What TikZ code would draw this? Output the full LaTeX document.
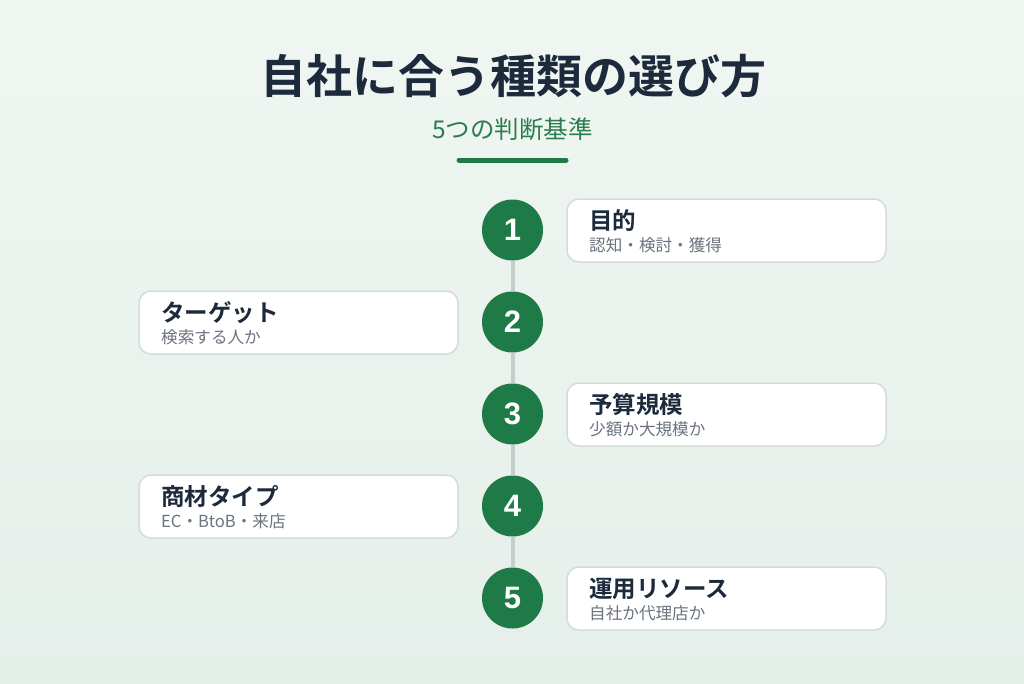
\documentclass[tikz,border=0pt]{standalone}
\usepackage{fontspec}
\newfontfamily\jp{Noto Sans CJK JP}
\newfontfamily\jpb{Noto Sans CJK JP Bold}
\newfontfamily\numfont{Liberation Sans}
\definecolor{bgtop}{HTML}{F0F6F2}
\definecolor{bgbot}{HTML}{E5EFEA}
\definecolor{navy}{HTML}{1C2A3C}
\definecolor{subgreen}{HTML}{2A7D4F}
\definecolor{dgreen}{HTML}{1E7A47}
\definecolor{cardborder}{HTML}{D3DDD8}
\definecolor{linegray}{HTML}{C5CECA}
\definecolor{subgray}{HTML}{6B7280}
\tikzset{
  numcircle/.style={circle, fill=dgreen, minimum size=61pt, inner sep=0pt, text=white, font=\numfont\bfseries\fontsize{31}{31}\selectfont},
  card/.style={rectangle, rounded corners=12pt, draw=cardborder, line width=1.5pt, fill=white, minimum width=319pt, minimum height=63pt, inner sep=0pt},
  cardtitle/.style={anchor=base west, inner sep=0pt, text=navy, font=\jpb\fontsize{23.5}{23.5}\selectfont},
  cardsub/.style={anchor=base west, inner sep=0pt, text=subgray, font=\jp\fontsize{16.6}{16.6}\selectfont},
  spine/.style={draw=linegray, line width=4pt}
}
\begin{document}
\begin{tikzpicture}[x=1pt,y=-1pt]
\shade[top color=bgtop, bottom color=bgbot] (0,0) rectangle (1024,683);
\useasboundingbox (0,0) rectangle (1024,683);
% title
\node[anchor=base, inner sep=0pt, text=navy, font=\jpb\fontsize{46}{46}\selectfont] (title) at (513,93) {自社に合う種類の選び方};
\node[anchor=base, inner sep=0pt, text=subgreen, font=\jp\fontsize{24.5}{24.5}\selectfont] (subtitle) at (512.5,138) {5つの判断基準};
\coordinate (barL) at (459,160);
\coordinate (barR) at (566,160);
\draw[dgreen, line width=5pt, line cap=round] (barL) -- (barR);
% circles
\node[numcircle] (c1) at (512.5,230) {1};
\node[numcircle] (c2) at (512.5,322) {2};
\node[numcircle] (c3) at (512.5,414) {3};
\node[numcircle] (c4) at (512.5,506) {4};
\node[numcircle] (c5) at (512.5,598) {5};
\draw[spine] (c1.south) -- (c2.north);
\draw[spine] (c2.south) -- (c3.north);
\draw[spine] (c3.south) -- (c4.north);
\draw[spine] (c4.south) -- (c5.north);
% cards
\node[card] (k1) at (726.5,230.5) {};
\node[card] (k2) at (298.5,322.5) {};
\node[card] (k3) at (726.5,414.5) {};
\node[card] (k4) at (298.5,506.5) {};
\node[card] (k5) at (726.5,598.5) {};
\node[cardtitle] (t1) at (589,229.5) {目的};
\node[cardsub] (s1) at (589,251) {認知・検討・獲得};
\node[cardtitle] (t2) at (161,321.5) {ターゲット};
\node[cardsub] (s2) at (161,343) {検索する人か};
\node[cardtitle] (t3) at (589,413.5) {予算規模};
\node[cardsub] (s3) at (589,435) {少額か大規模か};
\node[cardtitle] (t4) at (161,505.5) {商材タイプ};
\node[cardsub] (s4) at (161,527) {EC・BtoB・来店};
\node[cardtitle] (t5) at (589,597.5) {運用リソース};
\node[cardsub] (s5) at (589,619) {自社か代理店か};
\end{tikzpicture}
\end{document}
